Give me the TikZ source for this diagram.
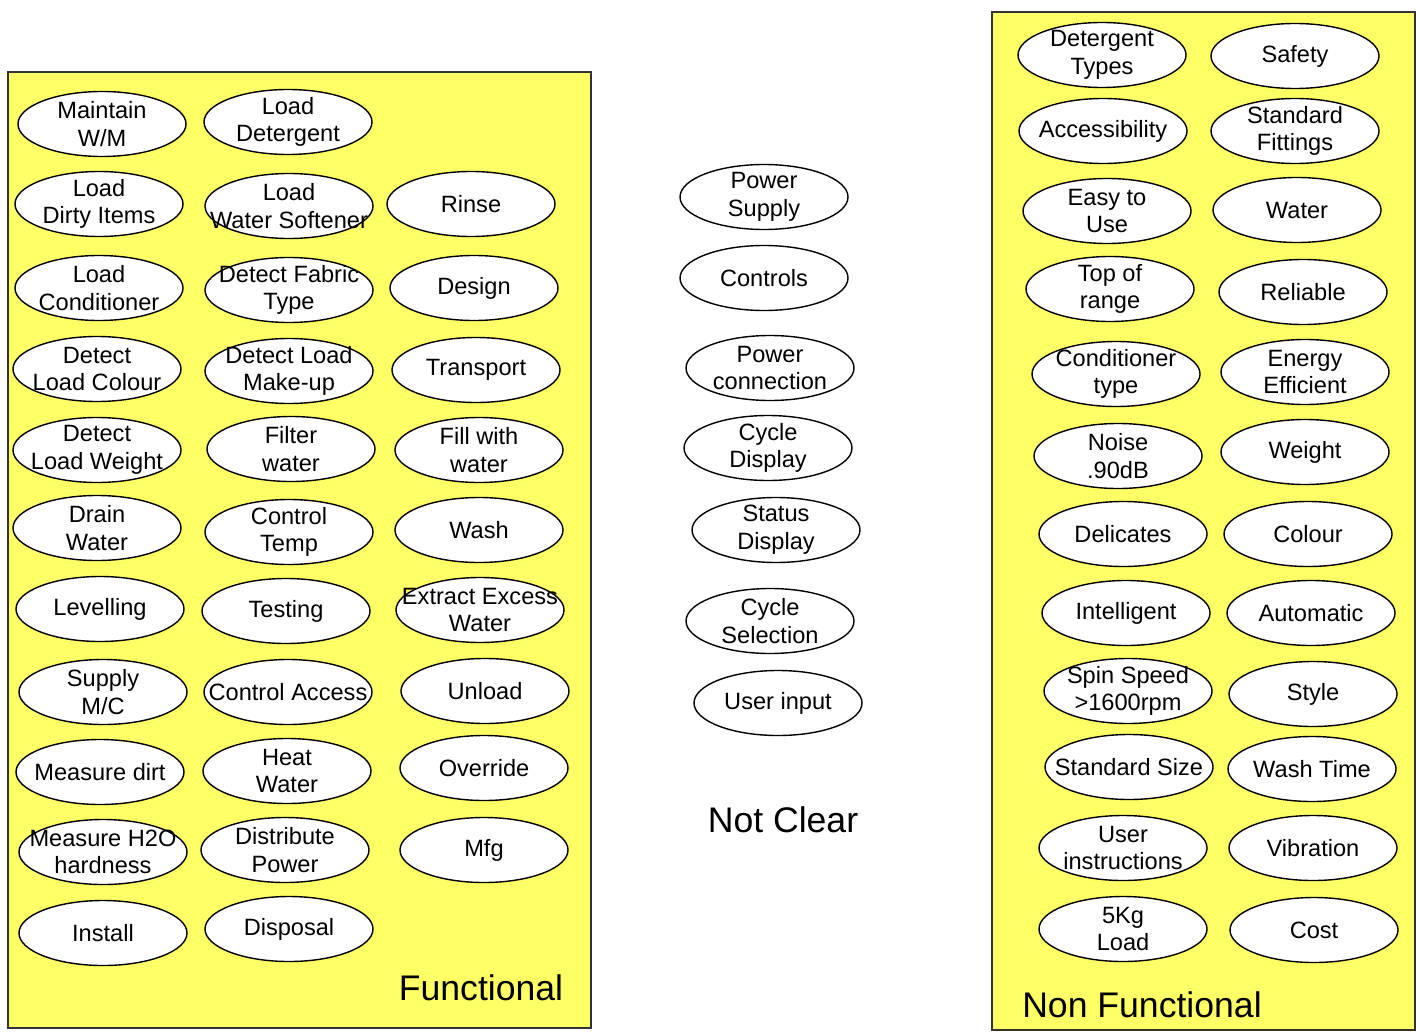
\documentclass[tikz,border=0pt]{standalone}
\usepackage{fontspec}
\setmainfont{Liberation Sans}
\usepackage{tikz}
\usetikzlibrary{shapes.geometric}
\definecolor{panelyellow}{RGB}{255,255,102}
\tikzset{
  panel/.style={draw=black!80, line width=0.6pt, fill=panelyellow},
  oval/.style={ellipse, draw=black, line width=0.7pt, fill=white,
    minimum width=84pt, minimum height=32.5pt, inner sep=0pt},
  ovtext/.style={align=center, inner sep=0pt,
    font=\fontsize{11.8}{13.8}\selectfont},
  bigtext/.style={font=\fontsize{17.8}{20}\selectfont, inner sep=0pt}
}

\begin{document}
\begin{tikzpicture}[x=0.5pt, y=-0.5pt]
  \useasboundingbox (0,0) rectangle (1416,1032);

  % functional panel
  \draw [panel] (8,72) rectangle (591,1028);
  \node [oval, label={[ovtext]center:{Maintain\\W/M}}] (maintain) at (102,124) {};
  \node [oval, label={[ovtext]center:{Load\\Dirty Items}}] (loaddirty) at (99,204) {};
  \node [oval, label={[ovtext]center:{Load\\Conditioner}}] (loadcond) at (99,288) {};
  \node [oval, label={[ovtext]center:{Detect\\Load Colour}}] (detcolour) at (97,369) {};
  \node [oval, label={[ovtext]center:{Detect\\Load Weight}}] (detweight) at (97,450) {};
  \node [oval, label={[ovtext]center:{Drain\\Water}}] (drain) at (97,528) {};
  \node [oval, label={[ovtext]center:{Levelling}}] (levelling) at (100,609) {};
  \node [oval, label={[ovtext]center:{Supply\\M/C}}] (supply) at (103,692) {};
  \node [oval, label={[ovtext]center:{Measure dirt}}] (measdirt) at (100,772) {};
  \node [oval, label={[ovtext]center:{Measure H2O\\hardness}}] (meash2o) at (103,852) {};
  \node [oval, label={[ovtext]center:{Install}}] (install) at (103,933) {};

  \node [oval, label={[ovtext]center:{Load\\Detergent}}] (loaddet) at (288,122) {};
  \node [oval, label={[ovtext]center:{Load\\Water Softener}}] (loadsoft) at (289,206) {};
  \node [oval, label={[ovtext]center:{Detect Fabric\\Type}}] (detfabric) at (289,290) {};
  \node [oval, label={[ovtext]center:{Detect Load\\Make-up}}] (detmakeup) at (289,371) {};
  \node [oval, label={[ovtext]center:{Filter\\water}}] (filter) at (291,449) {};
  \node [oval, label={[ovtext]center:{Control\\Temp}}] (ctrltemp) at (289,532) {};
  \node [oval, label={[ovtext]center:{Testing}}] (testing) at (286,611) {};
  \node [oval, label={[ovtext]center:{Control Access}}] (ctrlaccess) at (288,692) {};
  \node [oval, label={[ovtext]center:{Heat\\Water}}] (heat) at (287,771) {};
  \node [oval, label={[ovtext]center:{Distribute\\Power}}] (distpower) at (285,850) {};
  \node [oval, label={[ovtext]center:{Disposal}}] (disposal) at (289,929) {};

  \node [oval, label={[ovtext]center:{Rinse}}] (rinse) at (471,204) {};
  \node [oval, label={[ovtext]center:{Design}}] (design) at (474,288) {};
  \node [oval, label={[ovtext]center:{Transport}}] (transport) at (476,370) {};
  \node [oval, label={[ovtext]center:{Fill with\\water}}] (fill) at (479,450) {};
  \node [oval, label={[ovtext]center:{Wash}}] (wash) at (479,530) {};
  \node [oval, label={[ovtext]center:{Extract Excess\\Water}}] (extract) at (480,610) {};
  \node [oval, label={[ovtext]center:{Unload}}] (unload) at (485,691) {};
  \node [oval, label={[ovtext]center:{Override}}] (override) at (484,768) {};
  \node [oval, label={[ovtext]center:{Mfg}}] (mfg) at (484,850) {};

  \node [bigtext] (functional) at (481,988) {Functional};

  % not clear
  \node [oval, label={[ovtext]center:{Power\\Supply}}] (powsupply) at (764,197) {};
  \node [oval, label={[ovtext]center:{Controls}}] (controls) at (764,278) {};
  \node [oval, label={[ovtext]center:{Power\\connection}}] (powconn) at (770,368) {};
  \node [oval, label={[ovtext]center:{Cycle\\Display}}] (cycdisplay) at (768,448) {};
  \node [oval, label={[ovtext]center:{Status\\Display}}] (status) at (776,530) {};
  \node [oval, label={[ovtext]center:{Cycle\\Selection}}] (cycselect) at (770,621) {};
  \node [oval, label={[ovtext]center:{User input}}] (userinput) at (778,703) {};

  \node [bigtext] (notclear) at (783,820) {Not Clear};

  % non functional panel
  \draw [panel] (992,12) rectangle (1415,1030);
  \node [oval, label={[ovtext]center:{Detergent\\Types}}] (dettypes) at (1102,55) {};
  \node [oval, label={[ovtext]center:{Accessibility}}] (access) at (1103,131) {};
  \node [oval, label={[ovtext]center:{Easy to\\Use}}] (easy) at (1107,211) {};
  \node [oval, label={[ovtext]center:{Top of\\range}}] (toprange) at (1110,289) {};
  \node [oval, label={[ovtext]center:{Conditioner\\type}}] (condtype) at (1116,374) {};
  \node [oval, label={[ovtext]center:{Noise\\.90dB}}] (noise) at (1118,456) {};
  \node [oval, label={[ovtext]center:{Delicates}}] (delicates) at (1123,534) {};
  \node [oval, label={[ovtext]center:{Intelligent}}] (intelligent) at (1126,613) {};
  \node [oval, label={[ovtext]center:{Spin Speed\\>1600rpm}}] (spin) at (1128,691) {};
  \node [oval, label={[ovtext]center:{Standard Size}}] (stdsize) at (1129,767) {};
  \node [oval, label={[ovtext]center:{User\\instructions}}] (userinstr) at (1123,848) {};
  \node [oval, label={[ovtext]center:{5Kg\\Load}}] (fivekg) at (1123,929) {};

  \node [oval, label={[ovtext]center:{Safety}}] (safety) at (1295,56) {};
  \node [oval, label={[ovtext]center:{Standard\\Fittings}}] (stdfit) at (1295,131) {};
  \node [oval, label={[ovtext]center:{Water}}] (water) at (1297,210) {};
  \node [oval, label={[ovtext]center:{Reliable}}] (reliable) at (1303,292) {};
  \node [oval, label={[ovtext]center:{Energy\\Efficient}}] (energy) at (1305,372) {};
  \node [oval, label={[ovtext]center:{Weight}}] (weight) at (1305,452) {};
  \node [oval, label={[ovtext]center:{Colour}}] (colour) at (1308,534) {};
  \node [oval, label={[ovtext]center:{Automatic}}] (automatic) at (1311,613) {};
  \node [oval, label={[ovtext]center:{Style}}] (style) at (1313,694) {};
  \node [oval, label={[ovtext]center:{Wash Time}}] (washtime) at (1312,769) {};
  \node [oval, label={[ovtext]center:{Vibration}}] (vibration) at (1313,848) {};
  \node [oval, label={[ovtext]center:{Cost}}] (cost) at (1314,930) {};

  \node [bigtext] (nonfunctional) at (1142,1005) {Non Functional};
\end{tikzpicture}
\end{document}
